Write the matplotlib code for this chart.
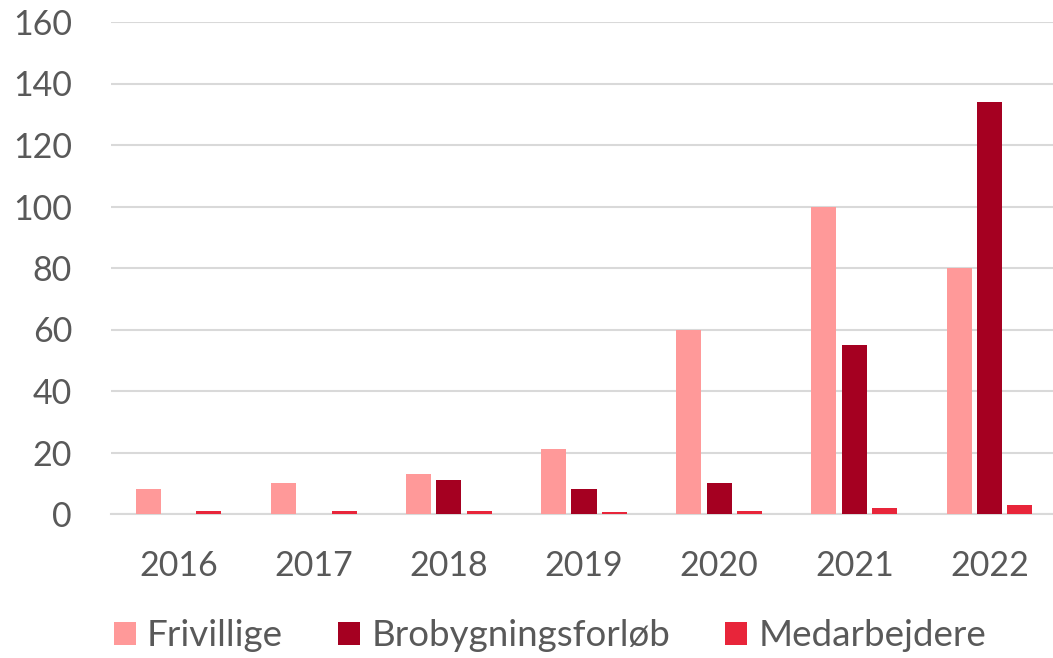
import matplotlib.pyplot as plt
import numpy as np

years = ["2016", "2017", "2018", "2019", "2020", "2021", "2022"]
frivillige = [8, 10, 13, 21, 60, 100, 80]
brobygning = [0, 0, 11, 8, 10, 55, 134]
medarbejdere = [1, 1, 1, 0.5, 1, 2, 3]

series = [
	("Frivillige", frivillige, "#FF9999"),
	("Brobygningsforløb", brobygning, "#A50021"),
	("Medarbejdere", medarbejdere, "#E8253A"),
]

def main():
	plt.rcParams['font.family'] = ['Lato', 'DejaVu Sans']
	fig = plt.figure(figsize=(10.53, 6.58), dpi=100)
	ax = fig.add_axes([111/1053, 1 - 514/658, 946/1053, 492/658])

	x = np.arange(len(years))
	offs = [-0.225, 0, 0.225]
	for (name, vals, col), off in zip(series, offs):
		ax.bar(x + off, vals, width=0.185, color=col, label=name, zorder=3)

	ax.set_xlim(-0.5, 6.5)
	ax.set_ylim(0, 160)
	ax.set_yticks(range(0, 161, 20))
	ax.set_xticks(x)
	ax.set_xticklabels(years)
	ax.grid(axis='y', color='#D9D9D9', linewidth=1.5, zorder=0)
	for s in ['top', 'right', 'left']:
		ax.spines[s].set_visible(False)
	ax.spines['bottom'].set_color('#D9D9D9')
	ax.spines['bottom'].set_linewidth(1.5)
	ax.tick_params(axis='both', length=0, labelsize=24.5, labelcolor='#595959')
	ax.tick_params(axis='y', pad=28)
	ax.tick_params(axis='x', pad=26)

	ax.legend(loc='center', bbox_to_anchor=(550/1053, 1 - 636/658), bbox_transform=fig.transFigure,
		ncol=3, frameon=False, fontsize=26.5, labelcolor='#595959',
		handlelength=0.6, handleheight=0.6, handletextpad=0.3, columnspacing=1.5)

	fig.savefig("out.png", dpi=100)

main()
